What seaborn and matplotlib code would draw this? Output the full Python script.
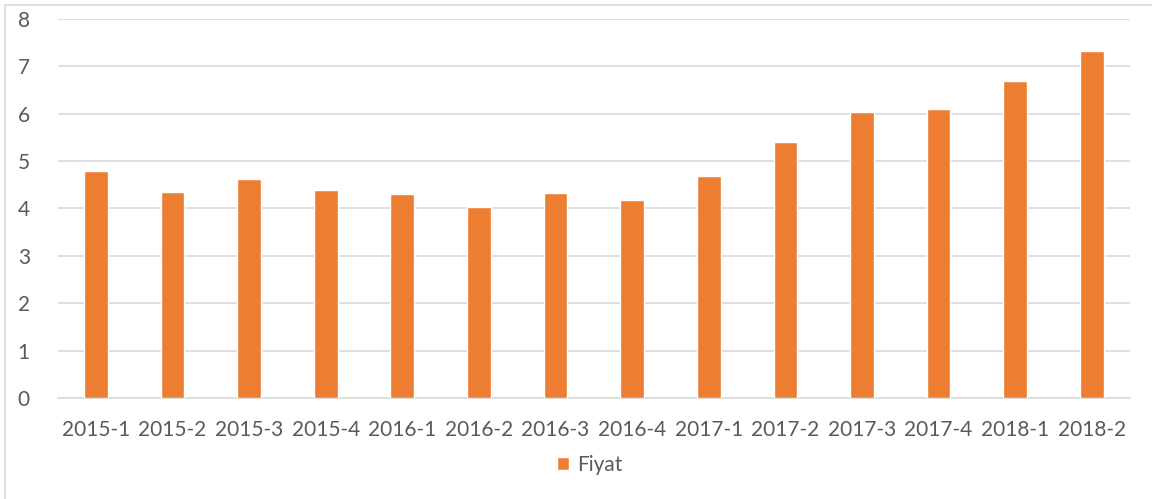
import pandas as pd
import matplotlib
matplotlib.use('Agg')
import matplotlib.pyplot as plt
import seaborn as sns
from matplotlib.patches import Rectangle, Patch

# Quarterly price data
periods = ['2015-1', '2015-2', '2015-3', '2015-4', '2016-1', '2016-2', '2016-3',
           '2016-4', '2017-1', '2017-2', '2017-3', '2017-4', '2018-1', '2018-2']
prices = [4.80, 4.35, 4.63, 4.38, 4.30, 4.03, 4.33, 4.17, 4.68, 5.40, 6.04, 6.10, 6.70, 7.33]

df = pd.DataFrame({'Dönem': periods, 'Fiyat': prices})

sns.set_theme(style='white')
plt.rcParams['font.family'] = ['Lato', 'DejaVu Sans']

fig = plt.figure(figsize=(11.52, 4.99), dpi=100)
ax = fig.add_axes([0.050, 0.2024, 0.931, 0.7596])

sns.barplot(data=df, x='Dönem', y='Fiyat', color='#ED7D31', width=0.31,
            saturation=1, ax=ax, zorder=3)

ax.set_ylim(0, 8)
ax.set_yticks(range(0, 9))
ax.grid(axis='y', color='#d9d9d9', linewidth=1.2, zorder=0)
ax.set_axisbelow(True)
for s in ['top', 'right', 'left']:
    ax.spines[s].set_visible(False)
ax.spines['bottom'].set_color('#d9d9d9')
ax.spines['bottom'].set_linewidth(1.2)
ax.set_xlabel('')
ax.set_ylabel('')
ax.tick_params(axis='both', length=0, labelsize=15, colors='#595959')
ax.tick_params(axis='y', pad=20)
ax.tick_params(axis='x', pad=16)
ax.set_xlim(-0.5, len(periods) - 0.5)

# legend
handle = Patch(facecolor='#ED7D31', label='Fiyat')
fig.legend(handles=[handle], loc='center', bbox_to_anchor=(0.512, 0.068),
           frameon=False, fontsize=15, labelcolor='#595959',
           handlelength=0.6, handleheight=0.6, handletextpad=0.4)

# chart area border (partially cropped)
fig.patches.append(Rectangle((5 / 1152, -0.2), 1.2, 1.2 - 5 / 499,
                             transform=fig.transFigure, fill=False,
                             edgecolor='#d9d9d9', linewidth=1.2))

fig.savefig('out.png', dpi=100)
